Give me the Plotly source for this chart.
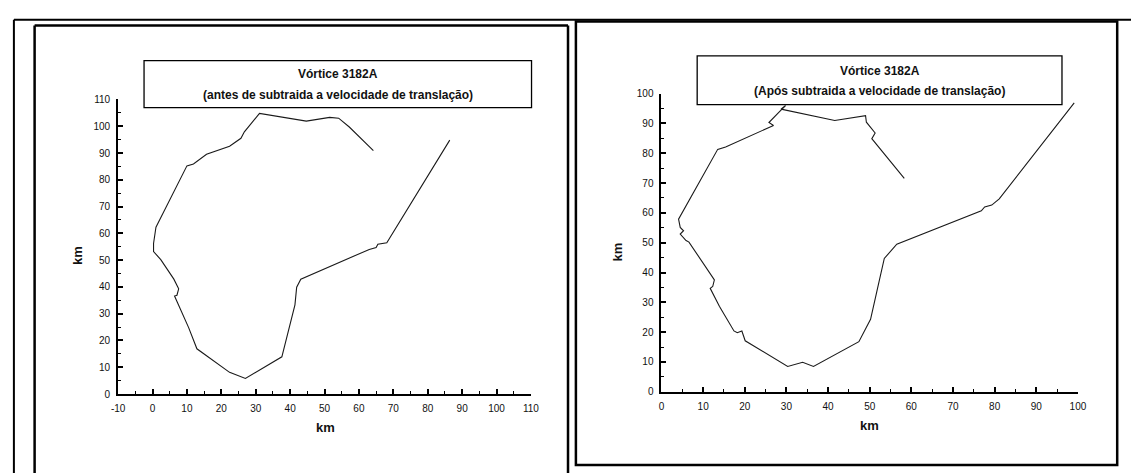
import plotly.graph_objects as go

# ---------------- data ----------------
# Left panel: vortex 3182A track before subtracting translation velocity (km)
left_x = [64.2, 57.2, 54.1, 51.5, 44.7, 31.1, 26.7, 25.7, 22.4, 15.7, 11.9, 10.0,
          1.0, 0.5, 0.3, 0.3, 2.4, 6.2, 7.6, 7.1, 6.4,
          10.5, 12.9, 22.4, 27.0, 37.6,
          41.4, 41.9, 43.1, 63.0, 65.0, 65.5, 68.1, 86.4]
left_y = [90.9, 99.7, 103.0, 103.3, 101.9, 104.8, 97.9, 95.5, 92.5, 89.5, 85.9, 85.2,
          62.3, 58.6, 56.2, 53.2, 50.2, 42.9, 39.3, 36.9, 36.6,
          24.8, 16.9, 8.1, 5.8, 13.9,
          33.3, 39.9, 42.9, 54.0, 54.7, 55.9, 56.5, 94.8]

# Right panel: vortex 3182A track after subtracting translation velocity (km)
right_x = [58.3, 56.1, 50.5, 51.3, 50.2, 49.2, 49.0, 41.6, 28.7, 29.8, 28.4, 25.8, 26.9,
           17.8, 15.4, 13.5, 4.1, 4.5, 5.3, 4.5, 5.9, 6.6, 12.7, 12.3, 11.7,
           13.9, 17.4, 18.2, 19.3, 20.1, 30.3, 33.9, 36.5, 47.4,
           50.2, 51.7, 53.5, 56.5, 76.8, 77.6, 79.3, 81.1, 99.1]
right_y = [71.6, 75.4, 84.9, 86.8, 88.8, 90.4, 92.6, 91.0, 94.8, 96.0, 94.0, 90.3, 89.3,
           83.8, 82.1, 81.3, 57.9, 55.1, 54.0, 52.9, 50.7, 50.2, 37.5, 35.3, 34.7,
           28.7, 20.4, 19.8, 20.4, 17.1, 8.5, 9.9, 8.5, 16.8,
           24.3, 33.6, 44.7, 49.5, 60.7, 62.0, 62.6, 64.7, 96.9]

left_xticks = [-10, 0, 10, 20, 30, 40, 50, 60, 70, 80, 90, 100, 110]
left_yticks = [0, 10, 20, 30, 40, 50, 60, 70, 80, 90, 100, 110]
right_xticks = [0, 10, 20, 30, 40, 50, 60, 70, 80, 90, 100]
right_yticks = [0, 10, 20, 30, 40, 50, 60, 70, 80, 90, 100]

title_main = "Vórtice 3182A"
title_left = "(antes de subtraida a velocidade de translação)"
title_right = "(Após subtraida a velocidade de translação)"
axis_label = "km"

# ---------------- figure ----------------
W, H = 1140, 473
FONT = "Liberation Sans, Arial, sans-serif"


def px(x):
    return x / W


def py(y):
    return 1 - y / H


fig = go.Figure()
fig.add_trace(go.Scatter(x=left_x, y=left_y, mode="lines",
                         line=dict(color="#1a1a1a", width=1.1),
                         xaxis="x", yaxis="y", showlegend=False))
fig.add_trace(go.Scatter(x=right_x, y=right_y, mode="lines",
                         line=dict(color="#1a1a1a", width=1.1),
                         xaxis="x2", yaxis="y2", showlegend=False))


def axis(domain, rng, ticks, anchor):
    return dict(
        domain=domain, range=rng, anchor=anchor,
        tickmode="array", tickvals=ticks, ticktext=[str(t) for t in ticks],
        showgrid=False, zeroline=False,
        showline=True, linecolor="black", linewidth=2,
        ticks="inside", ticklen=5, tickwidth=1.5, tickcolor="black",
        minor=dict(dtick=5, tick0=0, ticks="inside", ticklen=3, tickwidth=1.2, tickcolor="black"),
        tickfont=dict(family=FONT, size=10, color="#111111"),
        ticklabelstandoff=4,
        fixedrange=True,
    )


L_x0, L_x1, L_yb, L_yt = 112.7, 531.4, 398.3, 96.7
R_x0, R_x1, R_yb, R_yt = 663.8, 1086.2, 396.0, 90.7

fig.update_layout(
    width=W, height=H,
    margin=dict(l=0, r=0, t=0, b=0),
    paper_bgcolor="white", plot_bgcolor="white",
    xaxis=axis([px(L_x0), px(L_x1)], [-10, 110], left_xticks, "y"),
    yaxis=axis([py(L_yb), py(L_yt)], [0, 110], left_yticks, "x"),
    xaxis2=axis([px(R_x0), px(R_x1)], [0, 100], right_xticks, "y2"),
    yaxis2=axis([py(R_yb), py(R_yt)], [0, 100], right_yticks, "x2"),
)

shapes = []
LINE = dict(color="black", width=2)
# outer frame lines
shapes.append(dict(type="line", xref="paper", yref="paper", x0=px(7), x1=px(1140), y0=py(15), y1=py(15), line=LINE))
shapes.append(dict(type="line", xref="paper", yref="paper", x0=px(7), x1=px(7), y0=py(15), y1=py(480), line=LINE))
# left panel box (open at bottom)
LB = dict(color="black", width=2.5)
shapes.append(dict(type="line", xref="paper", yref="paper", x0=px(28), x1=px(569), y0=py(21), y1=py(21), line=LB))
shapes.append(dict(type="line", xref="paper", yref="paper", x0=px(28), x1=px(28), y0=py(21), y1=py(480), line=LB))
shapes.append(dict(type="line", xref="paper", yref="paper", x0=px(569), x1=px(569), y0=py(21), y1=py(480), line=LB))
# right panel box
shapes.append(dict(type="rect", xref="paper", yref="paper", x0=px(577), x1=px(1126), y0=py(17), y1=py(471), line=LB))
# title boxes
shapes.append(dict(type="rect", xref="paper", yref="paper", x0=px(139), x1=px(532), y0=py(57), y1=py(105),
                   line=dict(color="black", width=1.3), fillcolor="white", layer="above"))
shapes.append(dict(type="rect", xref="paper", yref="paper", x0=px(700), x1=px(1070), y0=py(52), y1=py(102),
                   line=dict(color="black", width=1.3), fillcolor="white", layer="above"))
fig.update_layout(shapes=shapes)

TF = dict(family=FONT, size=12, color="#111111")
AF = dict(family=FONT, size=13, color="#111111")
ann = []


def text(x, y, t, font, angle=0):
    ann.append(dict(xref="paper", yref="paper", x=px(x), y=py(y), text=t, showarrow=False,
                    xanchor="center", yanchor="middle", font=font, textangle=angle))


text(336, 71, "<b>" + title_main + "</b>", TF)
text(336, 92, "<b>" + title_left + "</b>", TF)
text(885, 68, "<b>" + title_main + "</b>", TF)
text(885, 88, "<b>" + title_right + "</b>", TF)
text(323, 433, "<b>" + axis_label + "</b>", AF)
text(71, 257, "<b>" + axis_label + "</b>", AF, -90)
text(875, 430, "<b>" + axis_label + "</b>", AF)
text(619, 253, "<b>" + axis_label + "</b>", AF, -90)
fig.update_layout(annotations=ann)

fig.write_html("out.html",
               config={"displayModeBar": False},
               post_script="document.body.style.margin='0';document.body.style.overflow='hidden';")
